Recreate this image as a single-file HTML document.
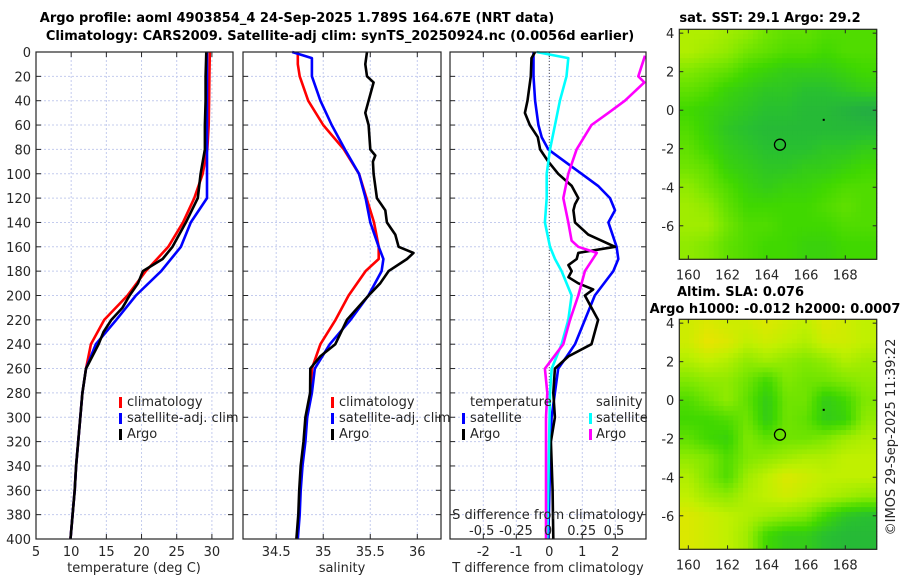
<!DOCTYPE html>
<html><head><meta charset="utf-8">
<style>
html,body{margin:0;padding:0;background:#fff;}
svg{display:block;font-family:"DejaVu Sans","Liberation Sans",sans-serif;}
.t{font-size:13px;fill:#262626;}
.b{font-size:13px;font-weight:bold;fill:#000;}
</style></head>
<body>
<svg id="fig" width="900" height="580" viewBox="0 0 900 580"></svg>
<script>
// ---------- data ----------
const depthTicks = [0,20,40,60,80,100,120,140,160,180,200,220,240,260,280,300,320,340,360,380,400];
const tTicks = [5,10,15,20,25,30];
const sTicks = [34.5,35,35.5,36];
const dTTicks = [-2,-1,0,1,2];
const dSTickLabels = ["-0.5","-0.25","0","0.25","0.5"];
const dSTickValues = [-0.5,-0.25,0,0.25,0.5];

const tDepth = [0,20,40,60,80,100,120,140,160,180,200,220,240,260,280,300,320,340,360,380,400];
const tClim = [29.7,29.65,29.6,29.55,29.35,28.7,27.5,25.9,23.8,20.6,18.0,14.7,12.8,12.1,11.6,11.3,11.0,10.7,10.5,10.2,9.9];
const tSat = [29.3,29.3,29.3,29.3,29.3,29.3,29.3,27.0,25.6,22.8,19.2,16.4,13.5,12.1,11.6,11.3,11.0,10.7,10.5,10.2,9.9];
const tArgoDepth = [0,20,40,60,80,100,120,140,160,170,180,190,200,210,220,230,240,260,280,300,320,340,360,380,400];
const tArgo = [29.2,29.1,29.1,29.0,29.0,28.4,28.0,26.3,24.4,23.0,20.2,19.5,18.3,17.3,15.7,14.6,13.9,12.1,11.6,11.3,11.0,10.7,10.5,10.2,9.9];

const sClimDepth = [0,10,20,40,60,80,100,120,140,160,170,180,200,220,240,260,280,300,320,340,360,380,400];
const sClim = [34.73,34.73,34.75,34.84,35.0,35.22,35.38,35.46,35.54,35.59,35.59,35.45,35.27,35.13,34.97,34.88,34.87,34.82,34.8,34.77,34.75,34.74,34.72];
const sSatDepth = [0,5,20,40,60,80,100,120,140,160,170,180,200,220,240,260,280,300,320,340,360,380,400];
const sSat = [34.67,34.88,34.88,34.97,35.09,35.23,35.38,35.45,35.5,35.59,35.64,35.62,35.48,35.29,35.07,34.91,34.88,34.83,34.81,34.78,34.76,34.75,34.73];
const sArgoDepth = [0,10,20,25,40,50,60,80,85,90,100,120,130,140,150,160,165,170,180,190,200,220,240,250,260,280,300,320,340,360,380,400];
const sArgo = [35.465,35.447,35.465,35.535,35.482,35.447,35.482,35.5,35.553,35.528,35.535,35.571,35.66,35.677,35.766,35.801,35.96,35.89,35.695,35.606,35.482,35.252,35.128,34.968,34.862,34.86,34.81,34.79,34.76,34.745,34.735,34.715];

const dTSatDepth = [0,20,40,60,70,80,90,100,110,120,130,140,160,170,180,200,220,240,250,260,280,300,340,400];
const dTSat = [-0.48,-0.48,-0.43,-0.33,-0.23,-0.03,0.47,0.98,1.48,1.84,1.99,1.79,2.04,2.09,1.94,1.38,1.08,0.78,0.53,0.27,0.17,0.07,0.02,-0.03];
const dTArgoDepth = [0,5,20,40,50,60,70,80,90,100,110,120,125,130,140,150,160,165,170,175,180,185,190,195,200,210,220,230,240,250,260,280,300,320,360,400];
const dTArgo = [-0.43,-0.54,-0.56,-0.66,-0.74,-0.59,-0.35,-0.28,-0.03,0.27,0.68,0.88,0.78,0.73,0.78,1.18,1.99,0.88,0.83,0.58,0.68,0.58,0.88,1.33,1.08,1.28,1.48,1.38,1.28,0.58,0.17,0.12,0.17,0.05,0.1,0.12];
const dSSatDepth = [0,5,20,40,60,80,100,120,140,160,170,180,200,220,240,260,280,400];
const dSSat = [-0.096,0.144,0.13,0.08,0.043,0.005,-0.02,-0.02,-0.033,0.005,0.043,0.093,0.169,0.144,0.093,0.018,0.005,-0.015];
const dSArgoDepth = [3,20,25,40,50,60,80,100,120,140,155,160,165,180,200,220,240,260,280,300,400];
const dSArgo = [0.725,0.674,0.72,0.573,0.447,0.32,0.207,0.144,0.106,0.144,0.169,0.22,0.36,0.27,0.22,0.157,0.106,-0.033,-0.015,-0.025,-0.025];

const lonTicks = [160,162,164,166,168];
const latTicks = [4,2,0,-2,-4,-6];
const mapLons = [160,161,162,163,164,165,166,167,168,169];
const mapLats = [4,3,2,1,0,-1,-2,-3,-4,-5,-6,-7];
const sstGrid = [
[0.8,0.8,0.75,0.7,0.6,0.55,0.55,0.5,0.5,0.5],
[0.8,0.75,0.7,0.6,0.55,0.5,0.5,0.45,0.5,0.5],
[0.65,0.6,0.55,0.45,0.4,0.35,0.35,0.35,0.4,0.45],
[0.55,0.5,0.4,0.35,0.3,0.3,0.25,0.25,0.3,0.35],
[0.45,0.4,0.35,0.3,0.25,0.25,0.2,0.2,0.15,0.1],
[0.5,0.4,0.3,0.25,0.2,0.2,0.2,0.2,0.2,0.2],
[0.55,0.45,0.35,0.3,0.25,0.25,0.25,0.3,0.3,0.35],
[0.6,0.55,0.4,0.35,0.3,0.3,0.35,0.35,0.4,0.45],
[0.7,0.6,0.5,0.4,0.35,0.4,0.4,0.45,0.5,0.5],
[0.75,0.7,0.55,0.45,0.45,0.45,0.45,0.5,0.55,0.5],
[0.75,0.75,0.6,0.5,0.5,0.45,0.45,0.45,0.5,0.5],
[0.7,0.65,0.55,0.5,0.45,0.45,0.4,0.4,0.45,0.45]];
const slaGrid = [
[0.9,0.95,0.9,0.9,0.95,0.9,0.85,0.95,0.9,0.85],
[0.9,1,0.95,0.85,0.9,0.85,0.8,0.9,0.9,0.85],
[0.8,0.85,0.8,0.7,0.75,0.7,0.65,0.7,0.8,0.75],
[0.65,0.7,0.7,0.6,0.45,0.65,0.6,0.6,0.65,0.7],
[0.5,0.6,0.7,0.55,0.35,0.6,0.6,0.35,0.45,0.65],
[0.45,0.45,0.5,0.6,0.35,0.6,0.55,0.35,0.4,0.7],
[0.55,0.45,0.4,0.65,0.55,0.6,0.6,0.65,0.75,0.8],
[0.7,0.65,0.5,0.65,0.7,0.75,0.8,0.8,0.85,0.85],
[0.8,0.65,0.5,0.75,0.85,0.95,0.9,0.85,0.85,0.85],
[0.85,0.75,0.7,0.8,0.85,0.9,0.85,0.8,0.75,0.7],
[0.95,0.9,0.85,0.8,0.75,0.7,0.65,0.45,0.3,0.25],
[0.95,0.9,0.85,0.75,0.45,0.35,0.35,0.25,0.2,0.2]];
const argoLon = 164.67, argoLat = -1.79;

// ---------- helpers ----------
const NS = "http://www.w3.org/2000/svg";
const svg = document.getElementById("fig");
function mk(tag, attrs, parent){
  const e = document.createElementNS(NS, tag);
  for (const k in attrs) e.setAttribute(k, attrs[k]);
  (parent||svg).appendChild(e); return e;
}
function txt(x,y,s,cls,anchor,parent){
  const e = mk("text",{x:x,y:y,class:cls||"t","text-anchor":anchor||"start"},parent);
  e.textContent = s; return e;
}
const Y0 = 52, Y1 = 539;
const yD = d => Y0 + (d/400)*(Y1-Y0);
function lin(d0,d1,p0,p1){ return v => p0 + (v-d0)/(d1-d0)*(p1-p0); }

function panel(name, x0, x1, xTicksVals, xFn, xLabels, grid){
  const g = mk("g",{});
  
  
  depthTicks.forEach(d=>{
    if(d>0 && d<400) mk("line",{x1:x0,x2:x1,y1:yD(d),y2:yD(d),stroke:"#c4ccee","stroke-width":1,"stroke-dasharray":"2,2"},g);
  });
  xTicksVals.forEach(v=>{
    const x = xFn(v);
    if (grid) mk("line",{x1:x,x2:x,y1:Y0,y2:Y1,stroke:"#c4ccee","stroke-width":1,"stroke-dasharray":"2,2"},g);
  });
  depthTicks.forEach(d=>{
    mk("line",{x1:x0,x2:x0+5,y1:yD(d),y2:yD(d),stroke:"#262626"},g);
    mk("line",{x1:x1-5,x2:x1,y1:yD(d),y2:yD(d),stroke:"#262626"},g);
  });
  xTicksVals.forEach((v,i)=>{
    const x = xFn(v);
    mk("line",{x1:x,x2:x,y1:Y0,y2:Y0+5,stroke:"#262626"},g);
    mk("line",{x1:x,x2:x,y1:Y1-5,y2:Y1,stroke:"#262626"},g);
    if (xLabels) txt(x,556,xLabels[i],"t","middle",g);
  });
  return g;
}
function series(name, g, depths, vals, xFn, color){
  let d = "";
  depths.forEach((dp,i)=>{ d += (i?"L":"M") + xFn(vals[i]).toFixed(1) + "," + yD(dp).toFixed(1); });
  const p = mk("path",{d:d,fill:"none",stroke:color,"stroke-width":2.6,"stroke-linejoin":"round"},g);
  
  
}
function frame(g,x0,x1){
  mk("rect",{x:x0,y:Y0,width:x1-x0,height:Y1-Y0,fill:"none",stroke:"#262626","stroke-width":1.2},g);
}
function legendMark(g,x,y,color){
  mk("rect",{x:x,y:y-10,width:3,height:11,fill:color},g);
}

// ---------- titles ----------
const t1 = txt(297,22,"Argo profile: aoml 4903854_4 24-Sep-2025 1.789S 164.67E (NRT data)","b","middle");
 
const t2 = txt(340,40,"Climatology: CARS2009. Satellite-adj clim: synTS_20250924.nc (0.0056d earlier)","b","middle");
 

depthTicks.forEach(d=>{
  const e = txt(31,yD(d)+5,String(d),"t","end");
  
  
});

// ---------- panel 1: temperature ----------
const xT = lin(5,33,36,233);
const g1 = panel("temperature-panel",36,233,tTicks,xT,tTicks.map(String),true);
series("temp-climatology-line",g1,tDepth,tClim,xT,"#ff0000");
series("temp-satellite-line",g1,tDepth,tSat,xT,"#0000ff");
series("temp-argo-line",g1,tArgoDepth,tArgo,xT,"#000000");
frame(g1,36,233);
txt(134,572,"temperature (deg C)","t","middle",g1);
legendMark(g1,119,407,"#ff0000"); txt(127,406,"climatology","t","start",g1);
legendMark(g1,119,423,"#0000ff"); txt(127,422,"satellite-adj. clim","t","start",g1);
legendMark(g1,119,439,"#000000"); txt(127,438,"Argo","t","start",g1);

// ---------- panel 2: salinity ----------
const xS = lin(34.5,36,276.2,417.3);
const g2 = panel("salinity-panel",243,441,sTicks,xS,sTicks.map(String),true);
series("sal-climatology-line",g2,sClimDepth,sClim,xS,"#ff0000");
series("sal-satellite-line",g2,sSatDepth,sSat,xS,"#0000ff");
series("sal-argo-line",g2,sArgoDepth,sArgo,xS,"#000000");
frame(g2,243,441);
txt(342,572,"salinity","t","middle",g2);
legendMark(g2,331,407,"#ff0000"); txt(339,406,"climatology","t","start",g2);
legendMark(g2,331,423,"#0000ff"); txt(339,422,"satellite-adj. clim","t","start",g2);
legendMark(g2,331,439,"#000000"); txt(339,438,"Argo","t","start",g2);

// ---------- panel 3: differences ----------
const xDT = lin(0,1,549.3,582.3);
const xDS = lin(0,0.25,549.3,582.3);
const g3 = panel("difference-panel",450,646,dTTicks,xDT,dTTicks.map(String),true);
mk("line",{x1:xDT(0),x2:xDT(0),y1:Y0,y2:Y1,stroke:"#555","stroke-width":1,"stroke-dasharray":"1,2"},g3);
series("dT-satellite-line",g3,dTSatDepth,dTSat,xDT,"#0000ff");
series("dT-argo-line",g3,dTArgoDepth,dTArgo,xDT,"#000000");
series("dS-satellite-line",g3,dSSatDepth,dSSat,xDS,"#00ffff");
series("dS-argo-line",g3,dSArgoDepth,dSArgo,xDS,"#ff00ff");
frame(g3,450,646);
txt(548,572,"T difference from climatology","t","middle",g3);
txt(548,519,"S difference from climatology","t","middle",g3);
const dSLabelX = [481.7,516,548,581.7,614];
dSTickValues.forEach((v,i)=>{ txt(dSLabelX[i],535,dSTickLabels[i],"t","middle",g3); });
txt(470,406,"temperature","t","start",g3);
legendMark(g3,462,423,"#0000ff"); txt(470,422,"satellite","t","start",g3);
legendMark(g3,462,439,"#000000"); txt(470,438,"Argo","t","start",g3);
txt(596,406,"salinity","t","start",g3);
legendMark(g3,589,423,"#00ffff"); txt(596,422,"satellite","t","start",g3);
legendMark(g3,589,439,"#ff00ff"); txt(596,438,"Argo","t","start",g3);

// ---------- maps ----------
const cStops = [[0,[32,160,80]],[0.25,[40,192,48]],[0.45,[64,216,0]],[0.65,[128,232,0]],[0.85,[192,240,0]],[1,[232,228,0]]];
function cmap(v){
  for(let i=1;i<cStops.length;i++){
    if (v<=cStops[i][0]){
      const a=cStops[i-1], b=cStops[i], f=(v-a[0])/(b[0]-a[0]);
      const c=a[1].map((x,k)=>Math.round(x+(b[1][k]-x)*f));
      return "rgb("+c.join(",")+")";
    }
  }
  return "rgb(232,228,0)";
}
function sampleGrid(grid, lon, lat){
  // bilinear interpolation of grid values at (lon,lat)
  let fc = Math.min(Math.max(lon-mapLons[0],0),mapLons.length-1);
  let fr = Math.min(Math.max(mapLats[0]-lat,0),mapLats.length-1);
  const c0=Math.floor(fc), r0=Math.floor(fr);
  const c1=Math.min(c0+1,mapLons.length-1), r1=Math.min(r0+1,mapLats.length-1);
  const tx=fc-c0, ty=fr-r0;
  const a=grid[r0][c0]*(1-tx)+grid[r0][c1]*tx;
  const b=grid[r1][c0]*(1-tx)+grid[r1][c1]*tx;
  return a*(1-ty)+b*ty;
}
function mapPanel(name, top, bottom, grid){
  const g = mk("g",{});
  
  
  const L=679.3, R=876.7;
  const LON0=159.54, LON1=169.6, LAT0=4.2, LAT1=-7.74;
  const xL = lin(LON0,LON1,L,R);
  const yL = lin(LAT0,LAT1,top,bottom);
  const step = 0.25;
  for (let la=LAT0; la>LAT1; la-=step){
    for (let lo=LON0; lo<LON1; lo+=step){
      const lo1=Math.min(lo+step,LON1), la1=Math.max(la-step,LAT1);
      const v = sampleGrid(grid,(lo+lo1)/2,(la+la1)/2);
      const cell = mk("rect",{x:xL(lo).toFixed(2),y:yL(la).toFixed(2),width:(xL(lo1)-xL(lo)+0.6).toFixed(2),height:(yL(la1)-yL(la)+0.6).toFixed(2),fill:cmap(v)},g);
      
      
    }
  }
  mk("rect",{x:L,y:top,width:R-L,height:bottom-top,fill:"none",stroke:"#262626","stroke-width":1.2},g);
  lonTicks.forEach(v=>{
    const x=xL(v);
    mk("line",{x1:x,x2:x,y1:top,y2:top+4,stroke:"#262626"},g);
    mk("line",{x1:x,x2:x,y1:bottom-4,y2:bottom,stroke:"#262626"},g);
    txt(x,bottom+20,String(v),"t","middle",g);
  });
  latTicks.forEach(v=>{
    const y=yL(v);
    mk("line",{x1:L,x2:L+4,y1:y,y2:y,stroke:"#262626"},g);
    mk("line",{x1:R-4,x2:R,y1:y,y2:y,stroke:"#262626"},g);
    txt(L-5,y+5,String(v),"t","end",g);
  });
  const m = mk("circle",{cx:xL(argoLon),cy:yL(argoLat),r:5.5,fill:"none",stroke:"#000","stroke-width":1.3},g);
  
  
  mk("rect",{x:xL(166.9)-1,y:yL(-0.5)-1,width:2,height:2,fill:"#000"},g);
  return g;
}
const m1 = mapPanel("sst-map",29.3,259.3,sstGrid);
txt(770,22,"sat. SST: 29.1 Argo: 29.2","b","middle",m1);
const m2 = mapPanel("sla-map",319.3,549.3,slaGrid);
txt(677,296,"Altim. SLA: 0.076","b","start",m2);
txt(775,313,"Argo h1000: -0.012 h2000: 0.0007","b","middle",m2);

const cr = txt(0,0,"©IMOS 29-Sep-2025 11:39:22","t","middle");
cr.setAttribute("transform","translate(895,437) rotate(-90)");


</script>
</body></html>
